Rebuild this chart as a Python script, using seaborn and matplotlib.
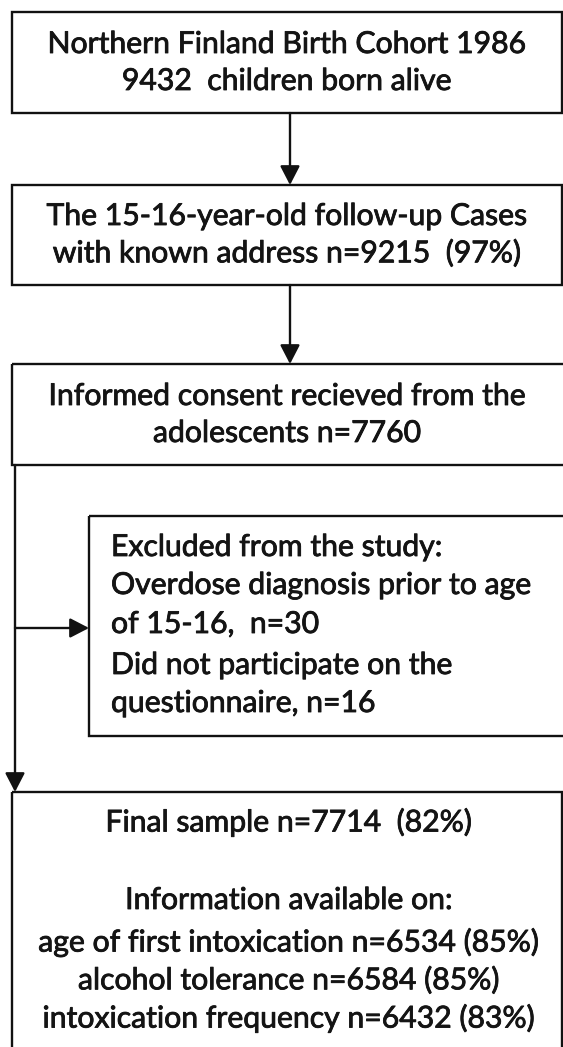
import matplotlib
matplotlib.use("Agg")
import matplotlib.pyplot as plt
from matplotlib.patches import Rectangle
import matplotlib.patheffects as pe
import seaborn as sns

# ---- content ----
box1_lines = ["Northern Finland Birth Cohort 1986", "9432  children born alive"]
box2_lines = ["The 15-16-year-old follow-up Cases", "with known address n=9215  (97%)"]
box3_lines = ["Informed consent recieved from the", "adolescents n=7760"]
box4_lines = ["Excluded from the study:",
              "Overdose diagnosis prior to age",
              "of 15-16,  n=30",
              "Did not participate on the",
              "questionnaire, n=16"]
box5_lines = ["Final sample n=7714  (82%)",
              "",
              "Information available on:",
              "age of first intoxication n=6534 (85%)",
              "alcohol tolerance n=6584 (85%)",
              "intoxication frequency n=6432 (83%)"]

# ---- layout (pixel space) ----
W, H = 563, 1047
sns.set_theme(style="white")
plt.rcParams['font.family'] = ['Lato', 'DejaVu Sans']

fig = plt.figure(figsize=(W / 100, H / 100), dpi=100)
ax = fig.add_axes([0, 0, 1, 1])
ax.set_xlim(0, W)
ax.set_ylim(H, 0)
ax.axis("off")

LC = "#111111"
LW = 1.7

boxes = [  # x0, y0, x1, y1
    (12, 12, 562, 113),
    (12, 185, 562, 285),
    (12, 364, 580, 465),
    (89, 516, 580, 736),
    (12, 792, 562, 1070),
]
for (x0, y0, x1, y1) in boxes:
    ax.add_patch(Rectangle((x0, y0), x1 - x0, y1 - y0, fill=False,
                           edgecolor=LC, linewidth=LW, clip_on=True))

# fit font size so reference line width matches reference picture
fs0 = 20
t = ax.text(0, 0, box1_lines[0], fontsize=fs0)
fig.canvas.draw()
w = t.get_window_extent().width
t.remove()
fs = fs0 * 480 / w

TC = "#141414"
eff = [pe.withStroke(linewidth=0.6, foreground=TC)]

def put(x, y, s, ha):
    ax.text(x, y, s, ha=ha, va="center", fontsize=fs, color=TC, path_effects=eff)

def centered(lines, ys, x=287):
    for s, y in zip(lines, ys):
        if s:
            put(x, y, s, "center")

centered(box1_lines, [44, 81])
centered(box2_lines, [216, 253])
centered(box3_lines, [396, 433])
for s, y in zip(box4_lines, [547, 585, 624, 665, 703]):
    put(111, y, s, "left")
centered(box5_lines, [822, 861, 900, 942, 980, 1018], x=289)

# connectors
ap = dict(arrowstyle="-|>,head_length=0.58,head_width=0.3", color=LC,
          lw=LW, mutation_scale=20, shrinkA=0, shrinkB=0)
ax.annotate("", xy=(290, 185), xytext=(290, 113), arrowprops=ap)
ax.annotate("", xy=(290, 364), xytext=(290, 285), arrowprops=ap)
ax.annotate("", xy=(15, 792), xytext=(15, 465), arrowprops=ap)
ax.annotate("", xy=(89, 628), xytext=(15, 628), arrowprops=ap)

fig.savefig("out.png", dpi=100, facecolor="white")
